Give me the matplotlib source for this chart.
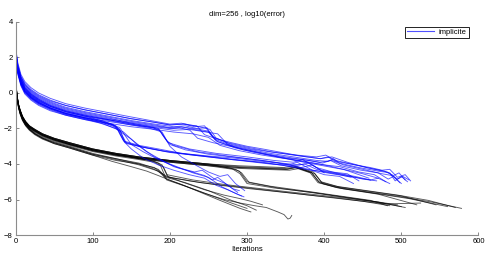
import matplotlib
matplotlib.use("Agg")
import matplotlib.pyplot as plt
from matplotlib.lines import Line2D

# runs: (iteration, log10(error))
blue_upper = [
    [(0, 2.6), (3, 1.7), (7, 1.05), (12, 0.65), (20, 0.3), (30, 0.0), (45, -0.3), (65, -0.6), (90, -0.85),
     (120, -1.1), (150, -1.35), (175, -1.55), (200, -1.75), (215, -1.7), (225, -1.8), (235, -1.85), (245, -2.35),
     (262, -2.6), (280, -2.8), (300, -3.0), (320, -3.15), (345, -3.35), (370, -3.55), (395, -3.7), (405, -3.6),
     (415, -3.85), (440, -4.05), (460, -4.2), (475, -4.35), (485, -4.3), (495, -4.75), (505, -4.6), (512, -4.95)],
    [(0, 2.5), (3, 1.5), (7, 0.9), (12, 0.5), (20, 0.1), (30, -0.2), (45, -0.5), (65, -0.8), (90, -1.05), (120, -1.3),
     (150, -1.55), (180, -1.75), (205, -1.9), (220, -1.85), (235, -2.0), (248, -1.95), (258, -2.6), (280, -2.95),
     (300, -3.15), (330, -3.4), (360, -3.6), (390, -3.8), (405, -3.85), (412, -3.7), (420, -3.95), (445, -4.2),
     (470, -4.4), (485, -4.5), (492, -4.95), (500, -4.7), (508, -5.0)],
    [(0, 2.4), (3, 1.35), (7, 0.75), (12, 0.3), (20, -0.05), (30, -0.35), (45, -0.65), (65, -0.95), (90, -1.2),
     (120, -1.45), (150, -1.65), (180, -1.85), (205, -2.0), (222, -1.95), (238, -2.05), (250, -2.15), (262, -2.75),
     (285, -3.05), (305, -3.25), (335, -3.5), (365, -3.7), (395, -3.9), (410, -3.8), (425, -4.05), (450, -4.3),
     (475, -4.55), (488, -4.65), (500, -5.1)],
    [(0, 2.55), (3, 1.6), (7, 0.95), (12, 0.55), (20, 0.2), (30, -0.1), (45, -0.4), (65, -0.7), (90, -0.95),
     (120, -1.2), (150, -1.45), (180, -1.65), (200, -1.8), (218, -1.75), (232, -1.9), (245, -1.85), (255, -2.45),
     (275, -2.8), (300, -3.05), (330, -3.3), (360, -3.5), (395, -3.7), (410, -3.6), (430, -3.9), (455, -4.2),
     (478, -4.4), (490, -4.65), (497, -4.5), (505, -4.9)],
    [(0, 2.3), (3, 1.2), (7, 0.55), (12, 0.1), (20, -0.25), (30, -0.55), (45, -0.85), (65, -1.15), (90, -1.4),
     (120, -1.6), (150, -1.8), (180, -1.95), (205, -2.1), (225, -2.05), (240, -2.15), (262, -2.3), (275, -2.9),
     (295, -3.2), (318, -3.4), (345, -3.65), (375, -3.85), (400, -4.05), (420, -4.15), (445, -4.45), (465, -4.6),
     (480, -5.0)],
    [(0, 2.45), (3, 1.45), (7, 0.85), (12, 0.4), (20, 0.05), (30, -0.25), (45, -0.55), (65, -0.85), (90, -1.1),
     (120, -1.35), (150, -1.6), (180, -1.8), (200, -1.95), (215, -1.9), (230, -2.05), (250, -2.2), (260, -2.7),
     (285, -3.1), (310, -3.35), (340, -3.6), (370, -3.85), (400, -4.05), (425, -4.3), (445, -4.6), (458, -4.8)],
    [(0, 2.5), (3, 1.55), (7, 0.9), (12, 0.45), (20, 0.15), (30, -0.15), (45, -0.45), (65, -0.7), (90, -0.95),
     (120, -1.2), (150, -1.45), (180, -1.65), (200, -1.8), (220, -1.75), (238, -1.9), (252, -2.05), (260, -2.55),
     (280, -2.9), (305, -3.15), (335, -3.35), (365, -3.5), (390, -3.6), (402, -3.5), (415, -3.8), (440, -4.05),
     (465, -4.3), (482, -4.45), (495, -4.85), (502, -4.7), (510, -4.9)],
    [(0, 2.35), (3, 1.3), (7, 0.65), (12, 0.2), (20, -0.15), (30, -0.45), (45, -0.75), (65, -1.05), (90, -1.3),
     (120, -1.5), (150, -1.7), (180, -1.9), (200, -2.0), (212, -1.95), (226, -2.1), (236, -2.55), (256, -2.8),
     (278, -3.0), (300, -3.2), (325, -3.45), (350, -3.65), (380, -3.8), (398, -3.95), (408, -3.8), (422, -4.1),
     (448, -4.35), (470, -4.5), (483, -4.85), (490, -4.7), (498, -5.05)],
    [(0, 2.2), (3, 1.05), (7, 0.4), (12, -0.05), (20, -0.4), (30, -0.7), (45, -1.0), (65, -1.25), (90, -1.5),
     (120, -1.7), (150, -1.9), (180, -2.05), (205, -2.2), (230, -2.3), (250, -2.5), (265, -2.95), (290, -3.25),
     (320, -3.5), (350, -3.7), (380, -3.95), (405, -4.15), (430, -4.35), (450, -4.55), (470, -4.8)],
]

blue_middle = [
    [(0, 2.35), (3, 1.25), (7, 0.6), (12, 0.15), (20, -0.2), (30, -0.5), (45, -0.8), (65, -1.1), (90, -1.35),
     (110, -1.55), (125, -1.75), (130, -1.85), (135, -2.3), (140, -2.7), (160, -2.95), (185, -3.15), (215, -3.4),
     (250, -3.55), (280, -3.65), (310, -3.8), (340, -3.95), (360, -4.1), (375, -4.0), (390, -4.3), (410, -4.45),
     (430, -4.55), (445, -4.95)],
    [(0, 2.3), (3, 1.2), (7, 0.55), (12, 0.1), (20, -0.25), (30, -0.55), (45, -0.85), (65, -1.15), (90, -1.4),
     (110, -1.6), (127, -1.8), (132, -1.95), (137, -2.4), (142, -2.8), (165, -3.05), (195, -3.3), (230, -3.5),
     (270, -3.7), (300, -3.85), (330, -4.0), (355, -4.05), (365, -3.9), (385, -4.35), (410, -4.55), (440, -4.75),
     (460, -4.9), (470, -4.8), (485, -5.1)],
    [(0, 2.4), (3, 1.35), (7, 0.75), (12, 0.25), (20, -0.1), (30, -0.4), (45, -0.7), (65, -1.0), (90, -1.25),
     (120, -1.5), (150, -1.75), (175, -1.95), (186, -2.05), (193, -2.5), (200, -2.9), (220, -3.2), (250, -3.45),
     (290, -3.65), (320, -3.8), (350, -4.0), (380, -4.3), (400, -4.6), (420, -4.7), (438, -5.1)],
    [(0, 2.25), (3, 1.15), (7, 0.5), (12, 0.05), (20, -0.3), (30, -0.6), (45, -0.9), (65, -1.2), (90, -1.45),
     (110, -1.65), (128, -1.85), (134, -2.0), (139, -2.45), (144, -2.85), (170, -3.1), (200, -3.35), (240, -3.55),
     (280, -3.75), (320, -3.9), (350, -4.1), (370, -4.2), (385, -4.05), (400, -4.5)],
    [(0, 2.5), (3, 1.4), (7, 0.8), (12, 0.35), (20, 0.0), (30, -0.3), (45, -0.6), (65, -0.9), (90, -1.15),
     (120, -1.4), (150, -1.7), (175, -1.9), (185, -2.0), (191, -2.4), (198, -2.8), (225, -3.15), (260, -3.4),
     (300, -3.6), (335, -3.8), (360, -3.9), (372, -3.75), (390, -4.2), (415, -4.5), (440, -4.7), (460, -4.9)],
    [(0, 2.3), (3, 1.25), (7, 0.6), (12, 0.15), (20, -0.2), (30, -0.5), (45, -0.85), (65, -1.15), (90, -1.4),
     (110, -1.6), (126, -1.8), (133, -2.1), (141, -2.75), (160, -3.0), (190, -3.25), (225, -3.45), (265, -3.65),
     (295, -3.8), (325, -3.95), (350, -4.1), (375, -4.3), (395, -4.4), (420, -4.6), (435, -4.75)],
    [(0, 2.45), (3, 1.4), (7, 0.75), (12, 0.3), (20, -0.05), (30, -0.35), (45, -0.7), (65, -1.0), (90, -1.25),
     (120, -1.5), (150, -1.75), (178, -1.95), (188, -2.15), (196, -2.7), (205, -2.95), (235, -3.3), (275, -3.55),
     (310, -3.75), (345, -3.95), (368, -4.05), (380, -3.95), (398, -4.4), (425, -4.6), (450, -4.85), (468, -4.95)],
]

blue_lower = [
    [(0, 2.3), (3, 1.2), (7, 0.55), (12, 0.1), (20, -0.25), (30, -0.55), (45, -0.85), (65, -1.15), (90, -1.4),
     (110, -1.6), (125, -1.85), (135, -2.05), (142, -2.8), (150, -3.15), (165, -3.65), (185, -4.05), (205, -4.35),
     (225, -4.6), (245, -4.8), (260, -5.2), (275, -5.45), (290, -5.75), (296, -5.85)],
    [(0, 2.2), (3, 1.1), (7, 0.45), (12, 0.0), (20, -0.35), (30, -0.65), (45, -0.95), (65, -1.25), (90, -1.5),
     (110, -1.7), (130, -2.0), (150, -2.6), (170, -3.3), (190, -3.8), (205, -4.15), (225, -4.4), (245, -4.65),
     (255, -4.9), (262, -4.75), (275, -5.2), (288, -5.6)],
    [(0, 2.35), (3, 1.3), (7, 0.65), (12, 0.2), (20, -0.15), (30, -0.45), (45, -0.75), (65, -1.05), (90, -1.3),
     (120, -1.55), (150, -1.8), (175, -2.0), (190, -2.2), (200, -3.0), (215, -3.6), (235, -4.1), (250, -4.45),
     (265, -4.7), (275, -4.6), (285, -5.1), (297, -5.5)],
    [(0, 2.25), (3, 1.2), (7, 0.5), (12, 0.05), (20, -0.3), (30, -0.6), (45, -0.9), (65, -1.2), (90, -1.45),
     (115, -1.75), (140, -2.2), (160, -3.0), (180, -3.6), (200, -4.0), (230, -4.5), (250, -4.75), (268, -5.3),
     (285, -5.65), (293, -5.8)],
    [(0, 2.4), (3, 1.3), (7, 0.7), (12, 0.25), (20, -0.1), (30, -0.4), (45, -0.75), (65, -1.05), (90, -1.3),
     (115, -1.6), (135, -1.95), (150, -2.9), (165, -3.3), (185, -3.75), (210, -4.2), (232, -4.45), (242, -4.35),
     (258, -4.85), (272, -5.1), (282, -5.4), (290, -5.5)],
]

black_long = [
    [(0, 0.9), (1, 0.3), (2, -0.2), (4, -0.7), (6, -1.0), (9, -1.35), (13, -1.65), (18, -1.9), (25, -2.1), (35, -2.35),
     (50, -2.6), (70, -2.85), (100, -3.2), (130, -3.45), (160, -3.65), (200, -3.85), (250, -4.05), (290, -4.2),
     (320, -4.25), (350, -4.3), (362, -4.2), (372, -4.35), (382, -4.5), (392, -5.05), (414, -5.3), (460, -5.6),
     (500, -5.85), (540, -6.15), (578, -6.5)],
    [(0, 0.95), (1, 0.35), (2, -0.15), (4, -0.65), (6, -0.95), (9, -1.3), (13, -1.6), (18, -1.85), (25, -2.05),
     (35, -2.3), (50, -2.55), (70, -2.8), (100, -3.15), (130, -3.4), (160, -3.6), (200, -3.8), (250, -4.0),
     (290, -4.15), (320, -4.2), (350, -4.25), (365, -4.15), (375, -4.3), (386, -4.45), (396, -5.0), (420, -5.3),
     (460, -5.55), (500, -5.8), (545, -6.3)],
    [(0, 0.85), (1, 0.25), (2, -0.25), (4, -0.75), (6, -1.05), (9, -1.4), (13, -1.7), (18, -1.95), (25, -2.15),
     (35, -2.4), (50, -2.65), (70, -2.9), (100, -3.25), (130, -3.5), (160, -3.7), (200, -3.9), (250, -4.1),
     (290, -4.25), (320, -4.3), (355, -4.35), (368, -4.25), (378, -4.4), (388, -4.55), (398, -5.1), (425, -5.4),
     (470, -5.7), (520, -6.3)],
    [(0, 0.9), (1, 0.3), (2, -0.2), (4, -0.7), (6, -1.0), (9, -1.35), (13, -1.65), (18, -1.9), (25, -2.1), (35, -2.35),
     (50, -2.6), (70, -2.9), (100, -3.2), (130, -3.45), (160, -3.65), (200, -3.85), (250, -4.05), (290, -4.2),
     (325, -4.25), (352, -4.3), (364, -4.2), (374, -4.35), (384, -4.5), (394, -5.05), (418, -5.35), (465, -5.65),
     (510, -5.95), (560, -6.4)],
    [(0, 0.95), (1, 0.3), (2, -0.2), (4, -0.7), (6, -1.0), (9, -1.35), (13, -1.6), (18, -1.85), (25, -2.05),
     (35, -2.3), (50, -2.55), (70, -2.8), (100, -3.15), (130, -3.4), (160, -3.6), (200, -3.8), (250, -4.0),
     (290, -4.1), (320, -4.15), (348, -4.2), (360, -4.1), (372, -4.3), (383, -4.45), (393, -5.0), (415, -5.25),
     (455, -5.5), (495, -5.75), (535, -6.05), (570, -6.45)],
]

black_middle = [
    [(0, 0.9), (1, 0.3), (2, -0.2), (4, -0.7), (6, -1.05), (9, -1.4), (13, -1.7), (18, -1.95), (25, -2.15), (35, -2.4),
     (50, -2.65), (70, -2.9), (100, -3.25), (130, -3.5), (150, -3.6), (175, -3.8), (185, -3.95), (192, -4.2),
     (198, -4.75), (220, -4.9), (240, -5.05), (270, -5.2), (302, -5.35), (340, -5.55), (380, -5.75), (414, -5.9),
     (450, -6.1), (485, -6.35)],
    [(0, 0.95), (1, 0.35), (2, -0.15), (4, -0.65), (6, -1.0), (9, -1.35), (13, -1.65), (18, -1.9), (25, -2.1),
     (35, -2.35), (50, -2.6), (70, -2.85), (100, -3.2), (130, -3.45), (160, -3.7), (180, -3.85), (190, -4.05),
     (196, -4.6), (230, -4.9), (270, -5.15), (300, -5.3), (350, -5.55), (414, -5.85), (470, -6.15), (505, -6.45)],
    [(0, 0.85), (1, 0.25), (2, -0.25), (4, -0.75), (6, -1.1), (9, -1.45), (13, -1.75), (18, -2.0), (25, -2.2),
     (35, -2.45), (50, -2.7), (70, -2.95), (100, -3.3), (130, -3.55), (160, -3.75), (180, -3.9), (188, -4.1),
     (194, -4.7), (225, -4.95), (265, -5.2), (305, -5.4), (360, -5.65), (420, -5.95), (480, -6.25), (525, -6.2)],
    [(0, 0.9), (1, 0.3), (2, -0.2), (4, -0.7), (6, -1.0), (9, -1.35), (13, -1.65), (18, -1.9), (25, -2.1), (35, -2.35),
     (50, -2.6), (70, -2.85), (100, -3.2), (130, -3.45), (160, -3.65), (200, -3.85), (250, -4.05), (280, -4.25),
     (290, -4.4), (300, -5.0), (330, -5.25), (380, -5.55), (420, -5.8), (460, -6.05), (482, -6.35)],
    [(0, 0.95), (1, 0.35), (2, -0.15), (4, -0.65), (6, -0.95), (9, -1.3), (13, -1.6), (18, -1.85), (25, -2.05),
     (35, -2.3), (50, -2.55), (70, -2.8), (100, -3.15), (130, -3.4), (160, -3.6), (200, -3.8), (250, -4.0),
     (285, -4.3), (293, -4.5), (303, -5.05), (340, -5.35), (390, -5.65), (440, -5.95), (495, -6.3)],
    [(0, 0.9), (1, 0.3), (2, -0.2), (4, -0.7), (6, -1.05), (9, -1.4), (13, -1.7), (18, -1.95), (25, -2.15),
     (35, -2.4), (50, -2.65), (70, -2.9), (100, -3.25), (130, -3.5), (160, -3.7), (200, -3.9), (250, -4.1),
     (282, -4.3), (291, -4.55), (300, -5.1), (335, -5.35), (385, -5.6), (430, -5.9), (470, -6.15), (500, -6.4)],
]

black_lower = [
    [(0, 0.85), (1, 0.2), (2, -0.3), (4, -0.8), (6, -1.15), (9, -1.5), (13, -1.8), (18, -2.05), (25, -2.3),
     (35, -2.55), (50, -2.8), (70, -3.05), (100, -3.45), (130, -3.75), (160, -4.05), (185, -4.4), (196, -4.85),
     (215, -5.15), (240, -5.6), (265, -6.05), (291, -6.5), (305, -6.7)],
    [(0, 0.8), (1, 0.15), (2, -0.35), (4, -0.85), (6, -1.2), (9, -1.55), (13, -1.85), (18, -2.1), (25, -2.35),
     (35, -2.6), (50, -2.85), (70, -3.1), (100, -3.5), (130, -3.8), (160, -4.0), (180, -4.3), (190, -4.55),
     (196, -4.9), (220, -5.25), (245, -5.65), (270, -6.0), (291, -6.2), (310, -6.35), (325, -6.45), (340, -6.7),
     (348, -6.85), (353, -7.1), (356, -7.05), (358, -6.9)],
    [(0, 0.85), (1, 0.2), (2, -0.3), (4, -0.8), (6, -1.1), (9, -1.45), (13, -1.75), (18, -2.0), (25, -2.25),
     (35, -2.5), (50, -2.75), (70, -3.0), (100, -3.4), (130, -3.7), (160, -3.95), (185, -4.3), (195, -4.75),
     (220, -5.05), (250, -5.5), (280, -6.05), (300, -6.35), (312, -6.6)],
    [(0, 0.8), (1, 0.15), (2, -0.35), (4, -0.85), (6, -1.15), (9, -1.5), (13, -1.8), (18, -2.05), (25, -2.3),
     (35, -2.55), (50, -2.8), (70, -3.05), (100, -3.45), (130, -3.7), (150, -3.9), (180, -4.2), (192, -4.6),
     (215, -5.0), (245, -5.45), (270, -5.75), (291, -5.95), (305, -6.1), (320, -6.3)],
    [(0, 0.85), (1, 0.2), (2, -0.3), (4, -0.8), (6, -1.15), (9, -1.5), (13, -1.8), (18, -2.05), (25, -2.3),
     (35, -2.55), (50, -2.85), (70, -3.1), (100, -3.5), (125, -3.85), (150, -4.15), (170, -4.4), (185, -4.65),
     (205, -5.0), (230, -5.4), (255, -5.8), (280, -6.2), (300, -6.5)],
]

title = "dim=256 , log10(error)"
xlabel = "Iterations"
legend_label = "implicite"
xticks = [0, 100, 200, 300, 400, 500, 600]
yticks = [-8, -6, -4, -2, 0, 2, 4]

plt.rcParams["font.family"] = ["Liberation Sans", "DejaVu Sans"]
fig = plt.figure(figsize=(4.89, 2.54), dpi=100)
ax = fig.add_axes([0.0317, 0.0748, 0.9468, 0.8386])

for group in (black_long, black_middle, black_lower):
    for run in group:
        xs, ys = zip(*run)
        ax.plot(xs, ys, color="black", lw=0.65, alpha=0.65)
for group in (blue_upper, blue_middle, blue_lower):
    for run in group:
        xs, ys = zip(*run)
        ax.plot(xs, ys, color="#0000ff", lw=0.65, alpha=0.65)

ax.set_xlim(0, 600); ax.set_ylim(-8, 4)
ax.set_xticks(xticks); ax.set_yticks(yticks)
ax.tick_params(direction="in", length=2, width=0.6, labelsize=5.5, color="0.45", labelcolor="black", pad=2)
for s in ("top", "right"):
    ax.spines[s].set_visible(False)
for s in ("left", "bottom"):
    ax.spines[s].set_color("0.55"); ax.spines[s].set_linewidth(0.8)
ax.set_title(title, fontsize=5.5, pad=4)
ax.set_xlabel(xlabel, fontsize=5.5, labelpad=1)

h = Line2D([], [], color="#5050ff", lw=0.8)
leg = ax.legend([h], [legend_label], loc="upper right", bbox_to_anchor=(0.979, 0.977), fontsize=5.5,
                fancybox=False, framealpha=1, edgecolor="black", handlelength=3.6, borderpad=0.25,
                handletextpad=0.6, borderaxespad=0)
leg.get_frame().set_linewidth(0.6)

fig.savefig("out.png", dpi=100)
